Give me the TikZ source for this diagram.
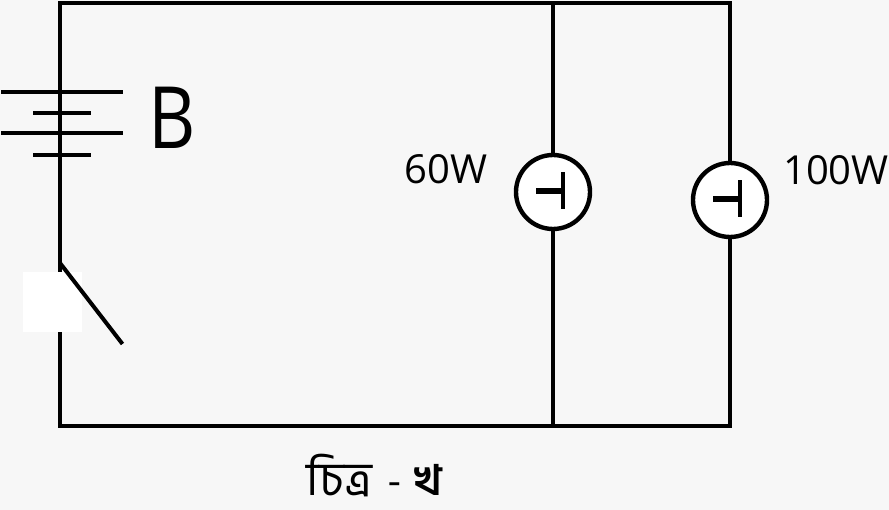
\documentclass[tikz,border=0pt]{standalone}
\usepackage{graphicx}
\usepackage{fontspec}
\setmainfont{Open Sans}
\newfontfamily\bangla[Script=Bengali]{Hind Siliguri}
\begin{document}
\begin{tikzpicture}[x=1pt,y=-1pt,
  wire/.style={line width=4.2pt,black,line cap=butt},
  lamp/.style={circle,draw=black,fill=white,line width=4.4pt,minimum size=74pt,inner sep=0pt},
  cell/.style={line width=4pt,black},
  lbl/.style={inner sep=0pt,anchor=center,font=\fontsize{40pt}{40pt}\selectfont}]
\useasboundingbox[fill={rgb,255:red,247;green,247;blue,247}] (0,0) rectangle (889,510);
% corners of the circuit
\coordinate (tl) at (60,3);
\coordinate (tm) at (553,3);
\coordinate (tr) at (730,3);
\coordinate (bl) at (60,426);
\coordinate (bm) at (553,426);
\coordinate (br) at (730,426);
\draw[wire,line join=miter] (bl) -- (tl) -- (tr) -- (br) -- cycle;
\draw[wire] (tm) -- (bm);
% battery
\coordinate (c1l) at (1,92);  \coordinate (c1r) at (123,92);
\coordinate (c2l) at (33,113); \coordinate (c2r) at (91,113);
\coordinate (c3l) at (1,133.5); \coordinate (c3r) at (123,133.5);
\coordinate (c4l) at (33,155); \coordinate (c4r) at (91,155);
\draw[cell] (c1l) -- (c1r);
\draw[cell] (c2l) -- (c2r);
\draw[cell] (c3l) -- (c3r);
\draw[cell] (c4l) -- (c4r);
\node[inner sep=0pt,font=\fontsize{86pt}{86pt}\selectfont] (B) at (172.5,118) {\scalebox{0.85}[1]{B}};
% switch
\node[fill=white,inner sep=0pt,minimum width=59pt,minimum height=60pt] (gap) at (52.5,302) {};
\coordinate (hinge) at (60,263);
\coordinate (blade) at (122.5,344);
\draw[line width=4pt,black] (hinge) -- (blade);
% lamps
\node[lamp] (lamp60) at (553,192) {};
\node[lamp] (lamp100) at (730,200) {};
\draw[line width=5.5pt] ([xshift=-17pt,yshift=1pt]lamp60.center) -- ([xshift=10pt,yshift=1pt]lamp60.center);
\draw[line width=3.4pt] ([xshift=10pt,yshift=-17pt]lamp60.center) -- ([xshift=10pt,yshift=20pt]lamp60.center);
\draw[line width=5.5pt] ([xshift=-17pt,yshift=1pt]lamp100.center) -- ([xshift=10pt,yshift=1pt]lamp100.center);
\draw[line width=3.4pt] ([xshift=10pt,yshift=-17pt]lamp100.center) -- ([xshift=10pt,yshift=20pt]lamp100.center);
\node[lbl] (l60) at (446,169) {60W};
\node[lbl] (l100) at (836,170) {100W};
% caption
\node[inner sep=0pt,font=\bangla\fontsize{42pt}{42pt}\selectfont] (cap) at (375,476) {{\fontsize{47pt}{47pt}\selectfont চিত্র}\hspace{15pt}-\hspace{13pt}\textbf{খ}};
\end{tikzpicture}
\end{document}
